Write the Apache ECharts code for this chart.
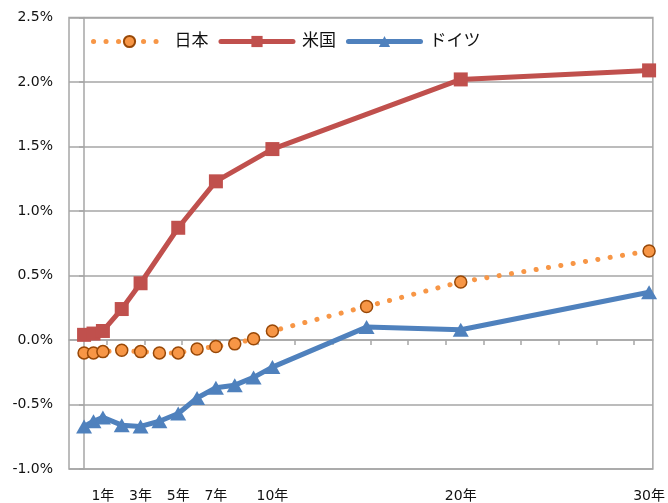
<!DOCTYPE html>
<html lang="ja">
<head>
<meta charset="UTF-8">
<script src="https://cdn.jsdelivr.net/npm/echarts@6/dist/echarts.min.js"></script>
<style>
  html, body { margin: 0; padding: 0; background: #fff; }
  #chart { width: 668px; height: 503px; }
</style>
</head>
<body>
<div id="chart"></div>
<script>
  // maturity in years (x) and yields in percent
  const maturities = [0, 0.5, 1, 2, 3, 4, 5, 6, 7, 8, 9, 10, 15, 20, 30];
  const japan = [-0.10, -0.10, -0.09, -0.08, -0.09, -0.10, -0.10, -0.07, -0.05, -0.03, 0.01, 0.07, 0.26, 0.45, 0.69];
  const usMaturities = [0, 0.5, 1, 2, 3, 5, 7, 10, 20, 30];
  const us = [0.04, 0.05, 0.07, 0.24, 0.44, 0.87, 1.23, 1.48, 2.02, 2.09];
  const germany = [-0.67, -0.63, -0.60, -0.66, -0.67, -0.63, -0.57, -0.45, -0.37, -0.35, -0.29, -0.21, 0.10, 0.08, 0.37];
  const labelYears = [1, 3, 5, 7, 10, 20, 30];
  const tickYears = [1.2, 3.2, 5.2, 7.2, 9.2, 11.2, 13.2, 15.2, 17.2, 19.2, 21.2, 23.2, 25.2, 27.2, 29.2];

  const pair = (xs, ys) => xs.map((x, i) => [x, ys[i]]);
  const gridGray = '#A6A6A6';
  const font = '"DejaVu Sans", "Noto Sans CJK JP", sans-serif';

  const chart = echarts.init(document.getElementById('chart'));
  chart.setOption({
    animation: false,
    grid: {
      left: 69, right: 13, top: 17.5, bottom: 33,
      show: true, borderColor: gridGray, borderWidth: 1.5
    },
    legend: {
      left: 86, top: 28,
      itemWidth: 72, itemHeight: 14, itemGap: 10,
      textStyle: { fontSize: 17, color: '#111', fontFamily: font, padding: [0, 0, 0, 4] },
      lineStyle: { width: 5 },
      data: ['日本', '米国', 'ドイツ']
    },
    xAxis: [
      {
        type: 'value', min: -0.8, max: 30.2,
        axisLine: { onZero: true, lineStyle: { color: gridGray, width: 1.5 } },
        axisTick: { show: true, length: 5, customValues: tickYears, lineStyle: { color: gridGray, width: 1.5 } },
        axisLabel: { show: false },
        splitLine: { show: false }
      },
      {
        type: 'value', min: -0.8, max: 30.2, position: 'bottom',
        axisLine: { show: false, onZero: false },
        axisTick: { show: false },
        axisLabel: {
          customValues: labelYears,
          formatter: (v) => v + '年',
          margin: 20, fontSize: 14, color: '#111', fontFamily: font
        },
        splitLine: { show: false }
      }
    ],
    yAxis: {
      type: 'value', min: -1, max: 2.5, interval: 0.5,
      axisLine: { show: true, lineStyle: { color: gridGray, width: 1.5 } },
      axisTick: { show: true, length: 5, lineStyle: { color: gridGray, width: 1.5 } },
      axisLabel: {
        formatter: (v) => v.toFixed(1) + '%',
        margin: 16, fontSize: 14, color: '#111', fontFamily: font
      },
      splitLine: { lineStyle: { color: gridGray, width: 1.5 } }
    },
    series: [
      {
        name: '日本', type: 'line', data: pair(maturities, japan),
        symbol: 'circle', symbolSize: 12,
        itemStyle: { color: '#F79646', borderColor: '#984807', borderWidth: 1.5 },
        lineStyle: { color: '#F79646', width: 5, type: [0.1, 12.4], cap: 'round' },
        z: 2
      },
      {
        name: '米国', type: 'line', data: pair(usMaturities, us),
        symbol: 'rect', symbolSize: 14,
        itemStyle: { color: '#C0504D' },
        lineStyle: { color: '#C0504D', width: 5, join: 'round', cap: 'round' },
        z: 3
      },
      {
        name: 'ドイツ', type: 'line', data: pair(maturities, germany),
        symbol: 'triangle', symbolSize: [16, 14],
        itemStyle: { color: '#4F81BD' },
        lineStyle: { color: '#4F81BD', width: 5, join: 'round', cap: 'round' },
        z: 4
      }
    ]
  });
</script>
</body>
</html>
